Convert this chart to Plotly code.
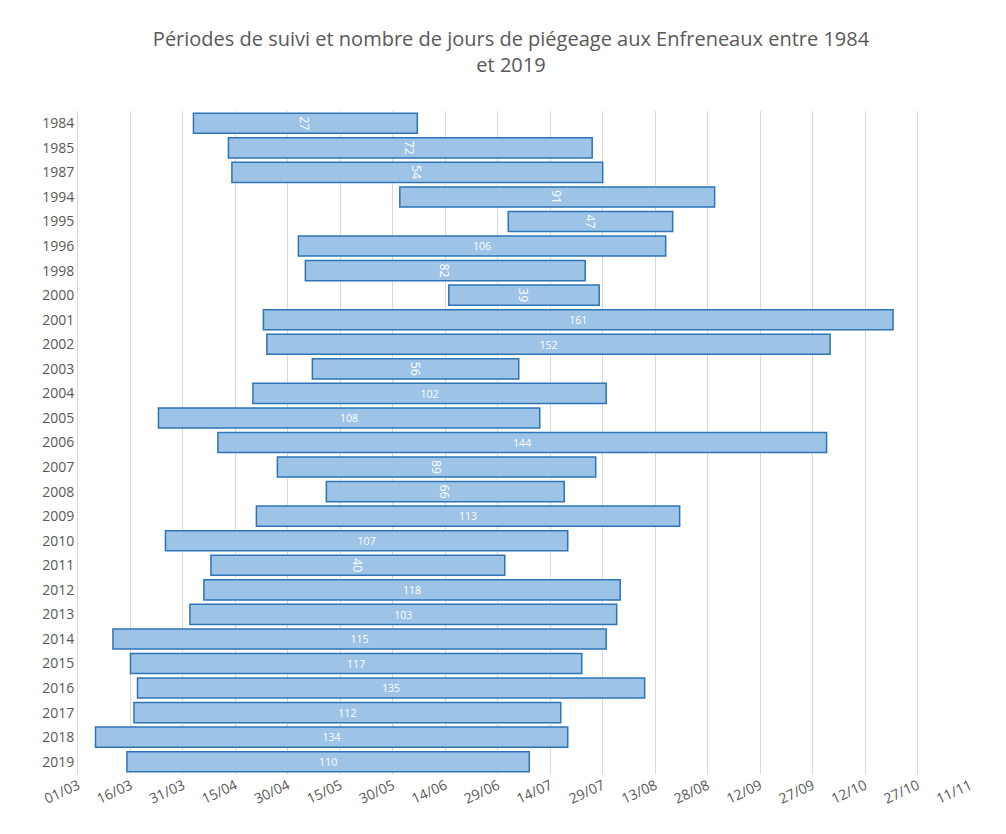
import plotly.graph_objects as go

years = ["1984", "1985", "1987", "1994", "1995", "1996", "1998", "2000", "2001", "2002",
         "2003", "2004", "2005", "2006", "2007", "2008", "2009", "2010", "2011", "2012",
         "2013", "2014", "2015", "2016", "2017", "2018", "2019"]
# days since 01/03
start = [33, 43, 44, 92, 123, 63, 65, 106, 53, 54, 67, 50, 23, 40, 57, 71, 51, 25, 38, 36,
         32, 10, 15, 17, 16, 5, 14]
end = [97, 147, 150, 182, 170, 168, 145, 149, 233, 215, 126, 151, 132, 214, 148, 139, 172, 140,
       122, 155, 154, 151, 144, 162, 138, 140, 129]
nb_jours = [27, 72, 54, 91, 47, 106, 82, 39, 161, 152, 56, 102, 108, 144, 89, 66, 113, 107, 40,
            118, 103, 115, 117, 135, 112, 134, 110]
tick_labels = ["01/03", "16/03", "31/03", "15/04", "30/04", "15/05", "30/05", "14/06", "29/06",
               "14/07", "29/07", "13/08", "28/08", "12/09", "27/09", "12/10", "27/10", "11/11"]

fig = go.Figure(go.Bar(
    y=years, x=[e - s for s, e in zip(start, end)], base=start, orientation="h",
    marker=dict(color="#9DC3E6", line=dict(color="#2E75B6", width=1.5)),
    text=nb_jours, textposition="inside", insidetextanchor="middle",
    textfont=dict(color="white", size=15), hoverinfo="skip",
))

fig.update_layout(
    width=1006, height=834, plot_bgcolor="white", paper_bgcolor="white",
    font=dict(family="Open Sans, Liberation Sans, sans-serif", color="#595959"),
    title=dict(text="Périodes de suivi et nombre de jours de piégeage aux Enfreneaux entre 1984<br>et 2019",
               x=0.5, xanchor="center", y=0.955, font=dict(size=20, color="#595959")),
    margin=dict(l=70, r=44, t=103, b=68),
    bargap=0.18, showlegend=False,
)
fig.update_xaxes(range=[0, 255], tickvals=[i * 15 for i in range(len(tick_labels))],
                 ticktext=tick_labels, tickangle=-25, showgrid=True, gridcolor="#D9D9D9",
                 zeroline=False, tickfont=dict(size=14), showline=False)
fig.update_yaxes(autorange="reversed", type="category", tickfont=dict(size=14),
                 showline=True, linecolor="#D9D9D9", ticks="")

fig.write_html("out.html")
